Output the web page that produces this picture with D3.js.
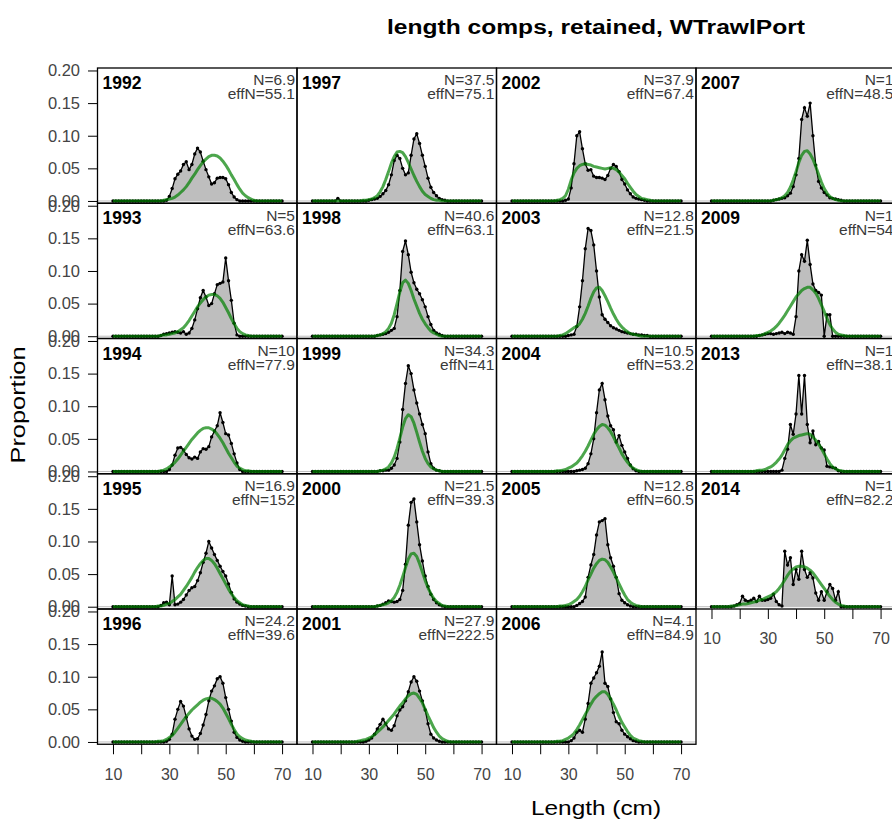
<!DOCTYPE html>
<html>
<head>
<meta charset="utf-8">
<script src="https://cdn.jsdelivr.net/npm/d3@7"></script>
<style>
  body { margin: 0; background: #fff; }
  svg { display: block; }
  text { font-family: "Liberation Sans", Arial, Helvetica, sans-serif; }
</style>
</head>
<body>
<svg id="chart" width="892" height="823"></svg>
<script>
// Length bins (cm)
const bins = [10,11,12,13,14,15,16,17,18,19,20,21,22,23,24,25,26,27,28,29,30,31,32,33,34,35,36,37,38,39,40,
  41,42,43,44,45,46,47,48,49,50,51,52,53,54,55,56,57,58,59,60,61,62,63,64,65,66,67,68,69,70];

const panelYears = [1992,1993,1994,1995,1996,1997,1998,1999,2000,2001,2002,2003,2004,2005,2006,2007,2009,2013,2014];
const inputN = ["6.9","5","10","16.9","24.2","37.5","40.6","34.3","21.5","27.9","37.9","12.8","10.5","12.8","4.1","1","1","1","1"];
const effN = ["55.1","63.6","77.9","152","39.6","75.1","63.1","41","39.3","222.5","67.4","21.5","53.2","60.5","84.9","48.5","54","38.1","82.2"];

// First bin of each listed run of values; bins outside a run are zero
const obsFirstBin = [29,27,30,27,29,19,33,34,33,29,29,30,33,33,31,32,27,35,18];
const expFirstBin = [28,27,27,26,26,28,33,34,33,26,26,27,26,27,26,32,26,26,17];

// Observed proportions
const obs1992 = [0.001,0.007,0.019,0.034,0.041,0.046,0.056,0.060,0.048,0.056,0.072,0.081,0.075,0.061,0.048,0.037,0.026,0.028,0.035,0.036,0.036,0.034,0.025,0.013,0.006,0.002];
const obs1993 = [0.001,0.003,0.004,0.005,0.006,0.007,0.006,0.005,0.007,0.003,0.005,0.012,0.025,0.042,0.059,0.070,0.060,0.047,0.050,0.065,0.079,0.081,0.083,0.120,0.085,0.055,0.020,0.002];
const obs1994 = [0.003,0.010,0.025,0.036,0.037,0.033,0.026,0.021,0.019,0.022,0.020,0.030,0.035,0.034,0.038,0.053,0.062,0.070,0.090,0.075,0.058,0.056,0.043,0.027,0.013,0.003];
const obs1995 = [0.002,0.006,0.007,0.003,0.047,0.003,0.004,0.007,0.011,0.018,0.025,0.029,0.031,0.040,0.052,0.068,0.082,0.100,0.090,0.080,0.071,0.062,0.054,0.047,0.035,0.022,0.012,0.007,0.004,0.002,0.001];
const obs1996 = [0.001,0.004,0.012,0.035,0.050,0.062,0.055,0.038,0.020,0.009,0.004,0.005,0.013,0.026,0.042,0.063,0.078,0.086,0.097,0.100,0.090,0.068,0.050,0.032,0.015,0.007,0.003,0.001];
const obs1997 = [0.004,0,0,0,0,0,0,0,0,0,0,0.001,0.002,0.003,0.004,0.007,0.011,0.016,0.025,0.040,0.062,0.070,0.065,0.050,0.040,0.043,0.070,0.095,0.103,0.088,0.070,0.053,0.035,0.021,0.013,0.008,0.004,0.002,0.001];
const obs1998 = [0.001,0.002,0.003,0.004,0.006,0.009,0.012,0.030,0.070,0.130,0.146,0.125,0.098,0.082,0.072,0.065,0.056,0.045,0.030,0.018,0.009,0.005,0.003,0.001];
const obs1999 = [0.001,0.001,0.002,0.002,0.005,0.010,0.020,0.045,0.095,0.135,0.162,0.150,0.125,0.105,0.088,0.072,0.058,0.030,0.012,0.005,0.002,0.001];
const obs2000 = [0.001,0.002,0.004,0.006,0.009,0.008,0.007,0.008,0.011,0.025,0.065,0.125,0.160,0.165,0.130,0.095,0.070,0.047,0.031,0.019,0.011,0.006,0.003,0.001];
const obs2001 = [0.001,0.003,0.006,0.012,0.020,0.027,0.035,0.028,0.020,0.018,0.025,0.040,0.049,0.054,0.063,0.077,0.092,0.100,0.093,0.078,0.063,0.049,0.028,0.012,0.006,0.003,0.001];
const obs2002 = [0.001,0.003,0.020,0.057,0.100,0.106,0.080,0.057,0.047,0.048,0.038,0.036,0.036,0.035,0.033,0.039,0.050,0.056,0.053,0.045,0.033,0.026,0.017,0.011,0.006,0.004,0.003,0.002,0.001];
const obs2003 = [0.001,0.002,0.003,0.015,0.045,0.085,0.134,0.165,0.162,0.140,0.100,0.060,0.033,0.026,0.021,0.016,0.013,0.011,0.009,0.007,0.006,0.005,0.004,0.003,0.003,0.002,0.002,0.001,0.001];
const obs2004 = [0.001,0.002,0.003,0.005,0.012,0.027,0.050,0.090,0.125,0.135,0.110,0.085,0.070,0.064,0.045,0.055,0.040,0.030,0.020,0.010,0.004,0.001];
const obs2005 = [0.002,0.005,0.008,0.015,0.045,0.064,0.080,0.110,0.130,0.132,0.135,0.095,0.075,0.062,0.045,0.020,0.010,0.006,0.003,0.001];
const obs2006 = [0.002,0.006,0.015,0.018,0.015,0.035,0.059,0.090,0.098,0.106,0.116,0.138,0.090,0.085,0.066,0.045,0.031,0.028,0.018,0.012,0.008,0.005,0.002,0.001];
const obs2007 = [0.001,0.002,0.003,0.004,0.005,0.008,0.012,0.022,0.040,0.065,0.125,0.143,0.130,0.150,0.100,0.055,0.030,0.020,0.013,0.009,0.005,0.004,0.003,0.002,0.001];
const obs2009 = [0.001,0.002,0.003,0.004,0.004,0.003,0.004,0.005,0.006,0.004,0.006,0.005,0.003,0.030,0.100,0.125,0.115,0.147,0.110,0.080,0.070,0.067,0.063,0.000,0.033,0.033,0.000];
const obs2013 = [0.002,0.020,0.034,0.072,0.057,0.088,0.147,0.088,0.147,0.072,0.044,0.062,0.041,0.046,0.036,0.033,0.008,0.007,0.006,0.005,0.001];
const obs2014 = [0.001,0.003,0.005,0.016,0.010,0.008,0.010,0.013,0.008,0.016,0.010,0.010,0.011,0.013,0.019,0.008,0.003,0.001,0.085,0.064,0.075,0.034,0.057,0.042,0.085,0.057,0.045,0.052,0.044,0.021,0.010,0.023,0.010,0.023,0.034,0.028,0.010,0.023];

// Expected proportions
const exp1992 = [0.001,0.002,0.003,0.004,0.006,0.009,0.013,0.017,0.022,0.028,0.035,0.041,0.048,0.054,0.060,0.064,0.068,0.070,0.070,0.069,0.066,0.061,0.055,0.048,0.040,0.033,0.025,0.018,0.012,0.008,0.005,0.003,0.001];
const exp1993 = [0.001,0.002,0.002,0.003,0.004,0.005,0.007,0.010,0.013,0.018,0.024,0.031,0.038,0.045,0.051,0.056,0.060,0.063,0.064,0.064,0.062,0.058,0.052,0.044,0.036,0.027,0.019,0.012,0.007,0.004,0.002,0.001];
const exp1994 = [0.001,0.002,0.004,0.007,0.010,0.014,0.019,0.025,0.031,0.037,0.043,0.049,0.054,0.059,0.063,0.066,0.067,0.067,0.065,0.062,0.057,0.051,0.044,0.036,0.028,0.021,0.014,0.008,0.005,0.003,0.001,0.001];
const exp1995 = [0.001,0.001,0.002,0.004,0.005,0.008,0.011,0.015,0.019,0.025,0.031,0.038,0.045,0.053,0.060,0.066,0.071,0.074,0.074,0.071,0.066,0.059,0.051,0.043,0.035,0.027,0.020,0.014,0.009,0.006,0.003,0.002,0.001];
const exp1996 = [0.001,0.001,0.002,0.004,0.007,0.010,0.015,0.021,0.027,0.033,0.039,0.044,0.049,0.053,0.057,0.061,0.064,0.066,0.067,0.067,0.065,0.062,0.058,0.052,0.044,0.036,0.027,0.019,0.012,0.008,0.005,0.003,0.002,0.001];
const exp1997 = [0.001,0.001,0.002,0.003,0.005,0.008,0.014,0.022,0.033,0.045,0.058,0.068,0.075,0.076,0.074,0.068,0.059,0.049,0.039,0.030,0.022,0.015,0.010,0.007,0.004,0.002,0.001,0.001];
const exp1998 = [0.001,0.002,0.004,0.007,0.012,0.020,0.033,0.050,0.068,0.082,0.086,0.081,0.070,0.057,0.046,0.035,0.026,0.019,0.013,0.008,0.005,0.003,0.001];
const exp1999 = [0.001,0.002,0.004,0.007,0.013,0.022,0.035,0.051,0.068,0.081,0.087,0.084,0.074,0.060,0.045,0.031,0.020,0.012,0.007,0.004,0.002,0.001];
const exp2000 = [0.001,0.002,0.003,0.004,0.006,0.009,0.014,0.022,0.033,0.046,0.060,0.073,0.081,0.082,0.077,0.066,0.053,0.040,0.029,0.020,0.013,0.008,0.005,0.002,0.001];
const exp2001 = [0.001,0.002,0.003,0.004,0.006,0.008,0.011,0.015,0.019,0.023,0.028,0.033,0.038,0.043,0.049,0.055,0.060,0.066,0.071,0.074,0.075,0.073,0.067,0.060,0.050,0.040,0.031,0.022,0.015,0.009,0.005,0.003,0.001];
const exp2002 = [0.001,0.002,0.004,0.008,0.018,0.032,0.043,0.050,0.054,0.056,0.057,0.056,0.055,0.053,0.052,0.051,0.050,0.049,0.050,0.051,0.050,0.048,0.044,0.039,0.034,0.027,0.021,0.015,0.010,0.007,0.004,0.003,0.002,0.001];
const exp2003 = [0.001,0.002,0.004,0.007,0.010,0.013,0.015,0.019,0.026,0.035,0.046,0.058,0.068,0.074,0.075,0.070,0.062,0.053,0.043,0.034,0.026,0.019,0.014,0.010,0.007,0.004,0.003,0.002,0.001];
const exp2004 = [0.001,0.001,0.002,0.003,0.005,0.007,0.010,0.013,0.018,0.024,0.031,0.039,0.048,0.057,0.064,0.069,0.072,0.071,0.067,0.061,0.053,0.044,0.036,0.027,0.020,0.014,0.009,0.005,0.003,0.001];
const exp2005 = [0.001,0.001,0.002,0.003,0.005,0.008,0.011,0.016,0.023,0.031,0.041,0.050,0.059,0.066,0.071,0.073,0.072,0.068,0.061,0.053,0.044,0.035,0.026,0.018,0.011,0.007,0.004,0.002,0.001];
const exp2006 = [0.001,0.001,0.002,0.004,0.006,0.009,0.013,0.019,0.026,0.034,0.042,0.050,0.058,0.065,0.070,0.074,0.077,0.077,0.073,0.066,0.058,0.049,0.039,0.030,0.023,0.016,0.010,0.006,0.004,0.002,0.001];
const exp2007 = [0.001,0.002,0.003,0.005,0.008,0.013,0.021,0.032,0.045,0.059,0.070,0.076,0.077,0.072,0.064,0.053,0.041,0.029,0.019,0.012,0.007,0.004,0.002,0.001];
const exp2009 = [0.001,0.001,0.002,0.004,0.006,0.008,0.011,0.015,0.020,0.026,0.032,0.039,0.046,0.053,0.060,0.065,0.070,0.073,0.075,0.075,0.071,0.066,0.058,0.048,0.038,0.027,0.018,0.011,0.006,0.003,0.002,0.001];
const exp2013 = [0.001,0.002,0.002,0.003,0.005,0.007,0.010,0.014,0.019,0.025,0.033,0.041,0.047,0.051,0.053,0.055,0.056,0.057,0.058,0.057,0.053,0.048,0.042,0.035,0.027,0.019,0.012,0.007,0.004,0.002,0.001];
const exp2014 = [0.001,0.001,0.002,0.003,0.004,0.004,0.005,0.006,0.007,0.008,0.010,0.011,0.013,0.015,0.017,0.020,0.023,0.028,0.034,0.041,0.048,0.054,0.058,0.061,0.062,0.062,0.061,0.059,0.056,0.052,0.046,0.040,0.034,0.028,0.022,0.016,0.011,0.007,0.004,0.002,0.001];

const obsRuns = [obs1992,obs1993,obs1994,obs1995,obs1996,obs1997,obs1998,obs1999,obs2000,obs2001,
  obs2002,obs2003,obs2004,obs2005,obs2006,obs2007,obs2009,obs2013,obs2014];
const expRuns = [exp1992,exp1993,exp1994,exp1995,exp1996,exp1997,exp1998,exp1999,exp2000,exp2001,
  exp2002,exp2003,exp2004,exp2005,exp2006,exp2007,exp2009,exp2013,exp2014];

const yTicks = [0, 0.05, 0.10, 0.15, 0.20];
const xTicks = [10, 20, 30, 40, 50, 60, 70];
const xTickLabels = [10, 30, 50, 70];

// Full-length series over every bin (zero outside the listed run)
function fullSeries(run, first) {
  return bins.map(b => {
    const k = b - first;
    return (k >= 0 && k < run.length) ? run[k] : 0;
  });
}

// ---- layout ----
const svg = d3.select("#chart");
const panelW = 199.5, panelH = 135.25;
const left0 = 97.5, top0 = 68;
const rowsPerCol = 5;
const textCol = "#3a3a3a";
const axisTextCol = "#444";
const expCol = "rgba(0,128,0,0.7)";

panelYears.forEach((yr, i) => {
  const col = Math.floor(i / rowsPerCol), row = i % rowsPerCol;
  const x0 = left0 + col * panelW, y0 = top0 + row * panelH;
  const x = d3.scaleLinear().domain([4.5, 75.3]).range([x0, x0 + panelW]);
  const y = d3.scaleLinear().domain([-0.0035, 0.2038]).range([y0 + panelH, y0]);

  const obs = fullSeries(obsRuns[i], obsFirstBin[i]);
  const exp = fullSeries(expRuns[i], expFirstBin[i]);
  const pts = bins.map((b, k) => ({ b, o: obs[k], e: exp[k] }));

  const g = svg.append("g");

  // zero reference line
  g.append("line")
    .attr("x1", x0).attr("x2", x0 + panelW)
    .attr("y1", y(0)).attr("y2", y(0))
    .attr("stroke", "#bebebe").attr("stroke-width", 1);

  // observed polygon
  g.append("path").datum(pts)
    .attr("d", d3.area().x(d => x(d.b)).y0(y(0)).y1(d => y(d.o)))
    .attr("fill", "#bebebe");

  // observed line + points
  g.append("path").datum(pts)
    .attr("d", d3.line().x(d => x(d.b)).y(d => y(d.o)))
    .attr("fill", "none").attr("stroke", "#000").attr("stroke-width", 1.3);
  g.selectAll("circle").data(pts).join("circle")
    .attr("cx", d => x(d.b)).attr("cy", d => y(d.o))
    .attr("r", 1.7).attr("fill", "#000");

  // expected line
  g.append("path").datum(pts)
    .attr("d", d3.line().x(d => x(d.b)).y(d => y(d.e)))
    .attr("fill", "none").attr("stroke", expCol).attr("stroke-width", 3)
    .attr("stroke-linejoin", "round");

  // panel frame
  g.append("rect")
    .attr("x", x0).attr("y", y0).attr("width", panelW).attr("height", panelH)
    .attr("fill", "none").attr("stroke", "#000").attr("stroke-width", 1.3);

  // labels
  g.append("text").attr("x", x0 + 5).attr("y", y0 + 21)
    .attr("font-size", 17.5).attr("font-weight", "bold").attr("fill", "#000")
    .text(yr);
  g.append("text").attr("x", x0 + panelW - 2).attr("y", y0 + 17.3)
    .attr("text-anchor", "end").attr("font-size", 15.5).attr("fill", textCol)
    .text("N=" + inputN[i]);
  g.append("text").attr("x", x0 + panelW - 2).attr("y", y0 + 31.3)
    .attr("text-anchor", "end").attr("font-size", 15.5).attr("fill", textCol)
    .text("effN=" + effN[i]);

  // left axis on the first column
  if (col === 0) {
    const ax = g.append("g").attr("transform", `translate(${x0},0)`)
      .call(d3.axisLeft(y).tickValues(yTicks).tickFormat(d3.format(".2f")).tickSize(9.5).tickPadding(8));
    ax.select(".domain").remove();
    ax.selectAll("line").attr("stroke", "#000");
    ax.selectAll("text").attr("font-size", 16.5).attr("fill", axisTextCol)
      .attr("font-family", '"Liberation Sans", Arial, sans-serif');
  }

  // bottom axis under the last panel of each column
  const lastInCol = (i === panelYears.length - 1) || (row === rowsPerCol - 1);
  if (lastInCol) {
    const ax = g.append("g").attr("transform", `translate(0,${y0 + panelH})`)
      .call(d3.axisBottom(x).tickValues(xTicks)
        .tickFormat(d => xTickLabels.includes(d) ? d : "").tickSize(10).tickPadding(14));
    ax.select(".domain").remove();
    ax.selectAll("line").attr("stroke", "#000");
    ax.selectAll("text").attr("font-size", 16).attr("fill", axisTextCol)
      .attr("font-family", '"Liberation Sans", Arial, sans-serif');
  }
});

// titles
svg.append("text").attr("x", 596).attr("y", 34).attr("text-anchor", "middle")
  .attr("font-size", 20).attr("font-weight", "bold").attr("fill", "#000")
  .attr("textLength", 418).attr("lengthAdjust", "spacingAndGlyphs")
  .text("length comps, retained, WTrawlPort");
svg.append("text").attr("transform", "translate(25,405) rotate(-90)")
  .attr("text-anchor", "middle").attr("font-size", 21).attr("fill", "#000")
  .attr("textLength", 117).attr("lengthAdjust", "spacingAndGlyphs")
  .text("Proportion");
svg.append("text").attr("x", 596).attr("y", 815).attr("text-anchor", "middle")
  .attr("font-size", 21).attr("fill", "#000")
  .attr("textLength", 130).attr("lengthAdjust", "spacingAndGlyphs")
  .text("Length (cm)");
</script>
</body>
</html>
